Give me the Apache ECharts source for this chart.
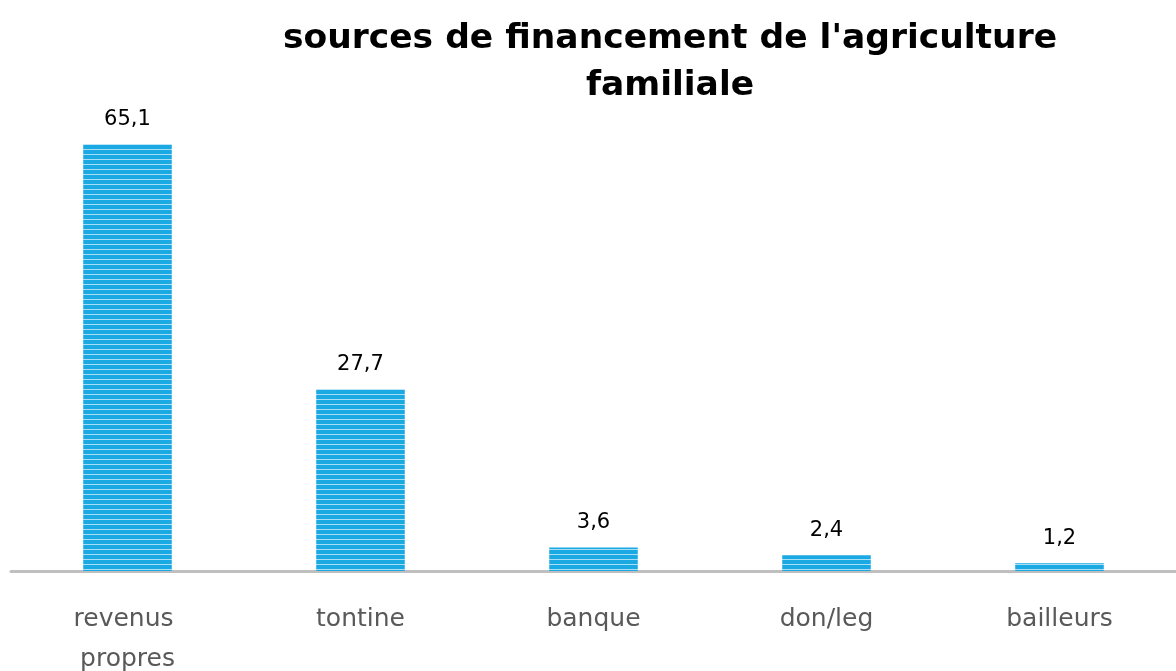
<!DOCTYPE html>
<html>
<head>
<meta charset="utf-8">
<script src="https://cdn.jsdelivr.net/npm/echarts@6/dist/echarts.min.js"></script>
<style>
  html, body { margin: 0; padding: 0; background: #fff; }
  #chart { width: 1176px; height: 671px; }
</style>
</head>
<body>
<div id="chart"></div>
<script>
// données
var categories = ["revenus propres", "tontine", "banque", "don/leg", "bailleurs"];
var values = [65.1, 27.7, 3.6, 2.4, 1.2];

// motif rayé des barres
function stripes() {
  var c = document.createElement("canvas");
  c.width = 8;
  c.height = 5;
  var ctx = c.getContext("2d");
  ctx.fillStyle = "#1aa9e3";
  ctx.fillRect(0, 0, 8, 5);
  ctx.fillStyle = "#a6def5";
  ctx.fillRect(0, 4, 8, 1);
  return c;
}

var chart = echarts.init(document.getElementById("chart"));
chart.setOption({
  animation: false,
  title: {
    text: "sources de financement de l'agriculture\nfamiliale",
    left: 665,
    top: 11,
    textAlign: "center",
    textStyle: {
      fontFamily: "DejaVu Sans",
      fontWeight: "bold",
      fontSize: 34.5,
      lineHeight: 47,
      color: "#000"
    }
  },
  grid: { left: 11, right: 0, top: 112, bottom: 100, outerBoundsMode: "none", containLabel: false },
  xAxis: {
    type: "category",
    data: categories,
    axisTick: { show: false },
    axisLine: { lineStyle: { color: "#bfbfbf", width: 3 } },
    axisLabel: {
      color: "#595959",
      fontFamily: "DejaVu Sans",
      fontSize: 25,
      lineHeight: 40,
      margin: 28,
      width: 160,
      overflow: "break",
      align: "center",
      interval: 0
    }
  },
  yAxis: {
    type: "value",
    min: 0,
    max: 70,
    show: false,
    splitLine: { show: false }
  },
  series: [{
    type: "bar",
    data: values,
    barWidth: "38%",
    itemStyle: { color: { image: stripes(), repeat: "repeat" } },
    label: {
      show: true,
      position: "top",
      distance: 14,
      color: "#000",
      fontFamily: "DejaVu Sans",
      fontSize: 21,
      formatter: function (p) { return String(p.value).replace(".", ","); }
    }
  }]
});
</script>
</body>
</html>
